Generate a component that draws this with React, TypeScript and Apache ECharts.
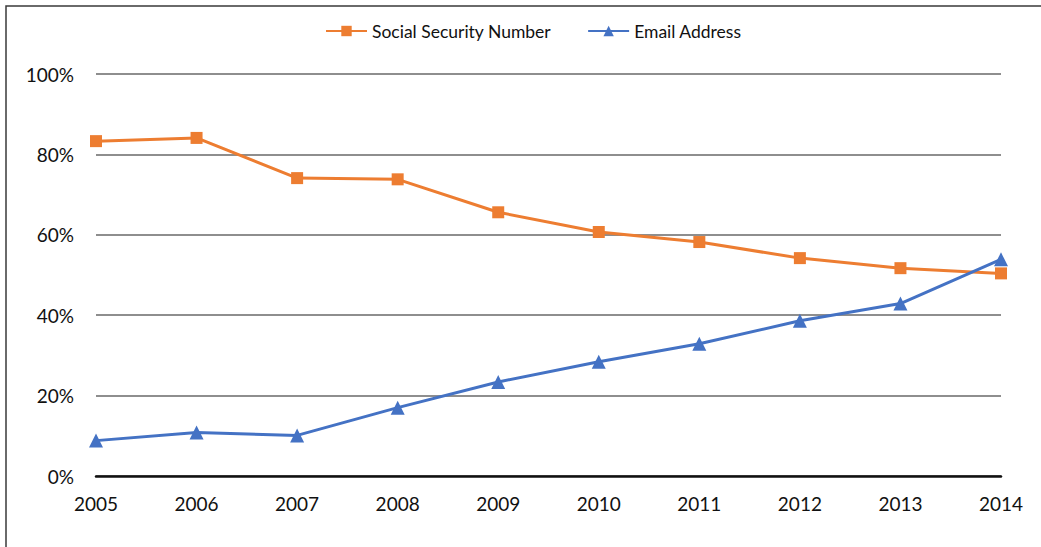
import React, { useEffect, useRef } from "react";
import * as echarts from "echarts";

const years = ["2005", "2006", "2007", "2008", "2009", "2010", "2011", "2012", "2013", "2014"];
const ssnValues = [83.3, 84.1, 74.1, 73.8, 65.6, 60.7, 58.2, 54.2, 51.7, 50.4];
const emailValues = [8.8, 10.8, 10.1, 17.0, 23.4, 28.4, 32.9, 38.6, 42.9, 53.9];
const seriesNames = ["Social Security Number", "Email Address"];
const yTicks = [0, 20, 40, 60, 80, 100];

export default function App() {
  const ref = useRef<HTMLDivElement>(null);
  useEffect(() => {
    if (!ref.current) return;
    const chart = echarts.init(ref.current, undefined, { renderer: "svg" });
    const font = "Lato, 'Open Sans', sans-serif";
    chart.setOption({
      animation: false,
      backgroundColor: "#ffffff",
      graphic: [
        {
          type: "rect",
          shape: { x: 6, y: 6, width: 1200, height: 700 },
          style: { fill: "none", stroke: "#3a3a3a", lineWidth: 1.5 },
          silent: true,
          z: 100,
        },
      ],
      legend: {
        top: 22,
        left: 325,
        padding: 0,
        itemWidth: 41,
        itemHeight: 13,
        itemGap: 36,
        textStyle: { fontFamily: font, fontSize: 17.5, color: "#111" },
        data: seriesNames,
      },
      grid: { left: 96, right: 40, top: 74, bottom: 71, containLabel: false },
      xAxis: {
        type: "category",
        data: years,
        boundaryGap: false,
        axisLine: { lineStyle: { color: "#111", width: 2.5 } },
        axisTick: { show: false },
        axisLabel: { fontFamily: font, fontSize: 19, color: "#111", margin: 18 },
        splitLine: { show: false },
      },
      yAxis: {
        type: "value",
        min: yTicks[0],
        max: yTicks[yTicks.length - 1],
        interval: 20,
        axisLine: { show: false },
        axisTick: { show: false },
        axisLabel: {
          fontFamily: font,
          fontSize: 19,
          color: "#111",
          margin: 22,
          formatter: (v: number) => v + "%",
        },
        splitLine: { lineStyle: { color: "#8e8e8e", width: 2 } },
      },
      series: [
        {
          name: seriesNames[0],
          type: "line",
          data: ssnValues,
          color: "#ED7D31",
          lineStyle: { width: 3, color: "#ED7D31" },
          symbol: "rect",
          symbolSize: 12,
          itemStyle: { color: "#ED7D31" },
          z: 3,
        },
        {
          name: seriesNames[1],
          type: "line",
          data: emailValues,
          color: "#4472C4",
          lineStyle: { width: 3, color: "#4472C4" },
          symbol: "triangle",
          symbolSize: 14,
          itemStyle: { color: "#4472C4" },
          z: 4,
        },
      ],
    });
    return () => chart.dispose();
  }, []);
  return (
    <div
      ref={ref}
      style={{ position: "fixed", left: 0, top: 0, width: 1041, height: 547, background: "#fff" }}
    />
  );
}
